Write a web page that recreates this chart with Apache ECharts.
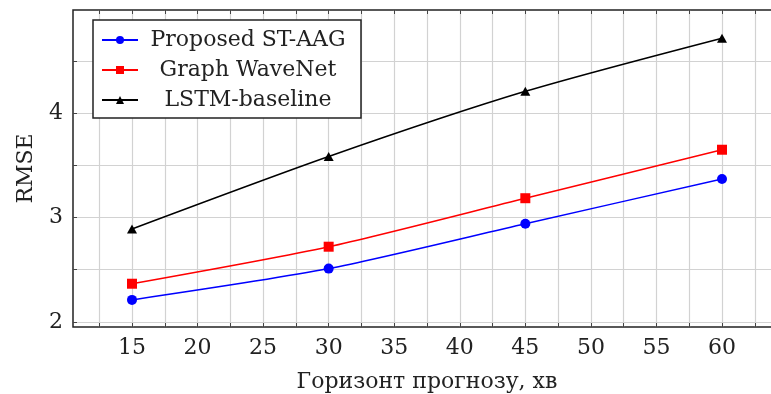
<!DOCTYPE html>
<html>
<head>
<meta charset="utf-8">
<script src="https://cdn.jsdelivr.net/npm/echarts@6/dist/echarts.min.js"></script>
<style>html,body{margin:0;padding:0;background:#fff}#c{width:771px;height:394px}</style>
</head>
<body>
<div id="c"></div>
<script>
const horizons = [15, 30, 45, 60];
const stAag = [2.21, 2.51, 2.94, 3.37];
const waveNet = [2.365, 2.72, 3.185, 3.65];
const lstm = [2.89, 3.585, 4.21, 4.72];
const seriesNames = ['Proposed ST-AAG', 'Graph WaveNet', 'LSTM-baseline'];
const xTitle = 'Горизонт прогнозу, хв';
const yTitle = 'RMSE';
const xTickLabels = [15, 20, 25, 30, 35, 40, 45, 50, 55, 60];
const xGridValues = [12.5, 15, 17.5, 20, 22.5, 25, 27.5, 30, 32.5, 35, 37.5, 40, 42.5, 45, 47.5, 50, 52.5, 55, 57.5, 60, 62.5];
const yTickLabels = [2, 3, 4];
const yGridValues = [2, 2.5, 3, 3.5, 4, 4.5];

const FONT = 'DejaVu Serif';
const TXT = '#222';
const FS = 22;
const chart = echarts.init(document.getElementById('c'), null, {renderer: 'canvas'});
const pts = arr => horizons.map((h, i) => [h, arr[i]]);
chart.setOption({
  animation: false,
  backgroundColor: '#fff',
  grid: {left: 73, top: 10, height: 317, width: 708, outerBoundsMode: 'none', containLabel: false,
         show: true, borderColor: '#222', borderWidth: 1.5, backgroundColor: 'transparent'},
  legend: {
    orient: 'vertical', left: 93, top: 20,
    itemWidth: 36, itemHeight: 10, itemGap: 8,
    padding: [9, 8, 7, 8],
    borderColor: '#222', borderWidth: 1.5, backgroundColor: '#fff',
    data: seriesNames,
    formatter: n => '{a|' + n + '}',
    textStyle: {
      fontFamily: FONT, fontSize: FS, color: TXT,
      rich: {a: {width: 210, align: 'center', fontFamily: FONT, fontSize: FS, color: TXT, lineHeight: 22}}
    }
  },
  xAxis: [{
    type: 'value', min: 10.5, max: 64.5,
    name: xTitle, nameLocation: 'middle', nameGap: 44,
    nameTextStyle: {fontFamily: FONT, fontSize: FS, color: TXT},
    axisLine: {show: false},
    axisTick: {show: true, inside: true, length: 4, customValues: xGridValues, lineStyle: {color: '#444', width: 1}},
    splitLine: {show: true, customValues: xGridValues, lineStyle: {color: '#d2d2d2', width: 1.2}},
    axisLabel: {
      customValues: xTickLabels, margin: 10,
      fontFamily: FONT, fontSize: FS, color: TXT
    }
  }, {
    type: 'value', min: 10.5, max: 64.5, position: 'top',
    axisLine: {show: false},
    axisTick: {show: true, inside: true, length: 4, customValues: xGridValues, lineStyle: {color: '#444', width: 1}},
    splitLine: {show: false},
    axisLabel: {show: false}
  }],
  yAxis: {
    type: 'value', min: 1.95, max: 4.99,
    name: yTitle, nameLocation: 'middle', nameGap: 36, nameRotate: 90,
    nameTextStyle: {fontFamily: FONT, fontSize: FS, color: TXT},
    axisLine: {show: false},
    axisTick: {show: true, inside: true, length: 4, customValues: yGridValues, lineStyle: {color: '#444', width: 1}},
    splitLine: {show: true, customValues: yGridValues, lineStyle: {color: '#d2d2d2', width: 1.2}},
    axisLabel: {
      customValues: yTickLabels, margin: 10,
      fontFamily: FONT, fontSize: FS, color: TXT
    }
  },
  series: [
    {name: seriesNames[0], type: 'line', data: pts(stAag), smooth: 0.25, symbol: 'circle', symbolSize: 10,
     itemStyle: {color: '#0000ff'}, lineStyle: {color: '#0000ff', width: 1.5}},
    {name: seriesNames[1], type: 'line', data: pts(waveNet), smooth: 0.25, symbol: 'rect', symbolSize: 10,
     itemStyle: {color: '#ff0000'}, lineStyle: {color: '#ff0000', width: 1.5}},
    {name: seriesNames[2], type: 'line', data: pts(lstm), smooth: 0.25, symbol: 'triangle', symbolSize: [10, 9],
     itemStyle: {color: '#000'}, lineStyle: {color: '#000', width: 1.5}}
  ]
});
</script>
</body>
</html>
